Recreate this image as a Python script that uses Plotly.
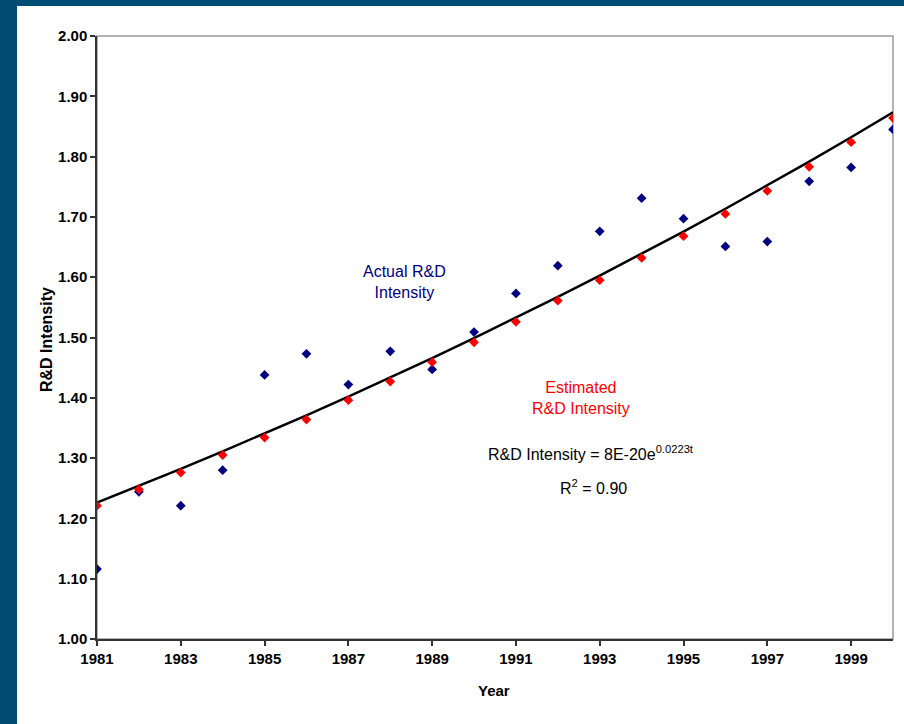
import numpy as np
import plotly.graph_objects as go

# Years and R&D intensity series
years = list(range(1981, 2001))
actual = [1.116, 1.244, 1.221, 1.280, 1.438, 1.473, 1.422, 1.477, 1.447, 1.509,
          1.573, 1.619, 1.676, 1.731, 1.697, 1.651, 1.659, 1.759, 1.782, 1.845]
estimated = [1.221, 1.248, 1.276, 1.305, 1.334, 1.364, 1.396, 1.427, 1.459, 1.492,
             1.526, 1.561, 1.595, 1.632, 1.668, 1.705, 1.743, 1.783, 1.824, 1.864]

# Exponential trend: R&D Intensity = A * e^(B t)
TREND_A = 8e-20
TREND_B = 0.0223
R_SQUARED = 0.90

x_ticks = list(range(1981, 2000, 2))
y_ticks = [round(1.0 + 0.1 * i, 2) for i in range(11)]

trend = [TREND_A * np.exp(TREND_B * t) for t in years]

NAVY = "#000080"
RED = "#FF0000"
FRAME = "#004B72"
TEXT_FONT = "Liberation Sans, Arial, sans-serif"
TICK_FONT = "Liberation Sans Narrow, Arial Narrow, Liberation Sans, Arial, sans-serif"

fig = go.Figure()

fig.add_trace(go.Scatter(
    x=years, y=trend, mode="lines",
    line=dict(color="black", width=2.5),
    name="Trend", hoverinfo="skip",
))
fig.add_trace(go.Scatter(
    x=years, y=actual, mode="markers",
    marker=dict(symbol="diamond", size=7.5, color=NAVY),
    name="Actual R&D Intensity",
))
fig.add_trace(go.Scatter(
    x=years, y=estimated, mode="markers",
    marker=dict(symbol="diamond", size=7.5, color=RED),
    name="Estimated R&D Intensity",
))

W, H = 904, 724
L, R, T, B = 97, 11, 36, 85
pw, ph = W - L - R, H - T - B


def px_x(p):
    return (p - L) / pw


def px_y(p):
    return (H - B - p) / ph


shapes = [
    # plot area border
    dict(type="rect", xref="paper", yref="paper", x0=0, x1=1, y0=0, y1=1,
         line=dict(color="#9a9a9a", width=1.5), layer="below"),
    # dark frame on the left and top edges
    dict(type="rect", xref="paper", yref="paper",
         x0=px_x(0), x1=px_x(17), y0=px_y(H), y1=px_y(0),
         fillcolor=FRAME, line=dict(width=0), layer="above"),
    dict(type="rect", xref="paper", yref="paper",
         x0=px_x(0), x1=px_x(W), y0=px_y(6), y1=px_y(0),
         fillcolor=FRAME, line=dict(width=0), layer="above"),
]

centered = dict(showarrow=False, xanchor="center", yanchor="middle")

annotations = [
    dict(x=1988.33, y=1.592, xref="x", yref="y",
         text="Actual R&D<br>Intensity", align="center",
         font=dict(family=TEXT_FONT, size=16, color=NAVY), **centered),
    dict(x=1992.56, y=1.399, xref="x", yref="y",
         text="Estimated<br>R&D Intensity", align="center",
         font=dict(family=TEXT_FONT, size=16, color=RED), **centered),
    dict(x=1992.80, y=1.309, xref="x", yref="y",
         text=f"R&D Intensity = 8E-20e<sup>{TREND_B}t</sup>",
         font=dict(family=TEXT_FONT, size=16, color="black"), **centered),
    dict(x=1992.84, y=1.252, xref="x", yref="y",
         text=f"R<sup>2</sup> = {R_SQUARED:.2f}",
         font=dict(family=TEXT_FONT, size=16, color="black"), **centered),
    # axis titles
    dict(x=px_x(494), y=px_y(690), xref="paper", yref="paper",
         text="<b>Year</b>", font=dict(family=TEXT_FONT, size=15, color="black"),
         **centered),
    dict(x=px_x(47), y=px_y(340), xref="paper", yref="paper",
         text="<b>R&D Intensity</b>", textangle=-90,
         font=dict(family=TEXT_FONT, size=16, color="black"), **centered),
]

fig.update_layout(
    width=W, height=H,
    margin=dict(l=L, r=R, t=T, b=B, pad=0),
    paper_bgcolor="white", plot_bgcolor="white",
    showlegend=False,
    shapes=shapes,
    annotations=annotations,
)

fig.update_xaxes(
    range=[1981, 2000], tickvals=x_ticks, ticktext=[f"<b>{t}</b>" for t in x_ticks],
    showgrid=False, zeroline=False,
    showline=True, linecolor="#333333", linewidth=1.5,
    ticks="outside", ticklen=5, tickwidth=1.5, tickcolor="#333333",
    tickfont=dict(family=TICK_FONT, size=15, color="black"),
)
fig.update_yaxes(
    range=[1.0, 2.0], tickvals=y_ticks, ticktext=[f"<b>{v:.2f}</b>" for v in y_ticks],
    showgrid=False, zeroline=False,
    showline=True, linecolor="#333333", linewidth=1.5,
    ticks="outside", ticklen=5, tickwidth=1.5, tickcolor="#333333",
    tickfont=dict(family=TICK_FONT, size=15, color="black"),
)

fig.write_html("out.html")
